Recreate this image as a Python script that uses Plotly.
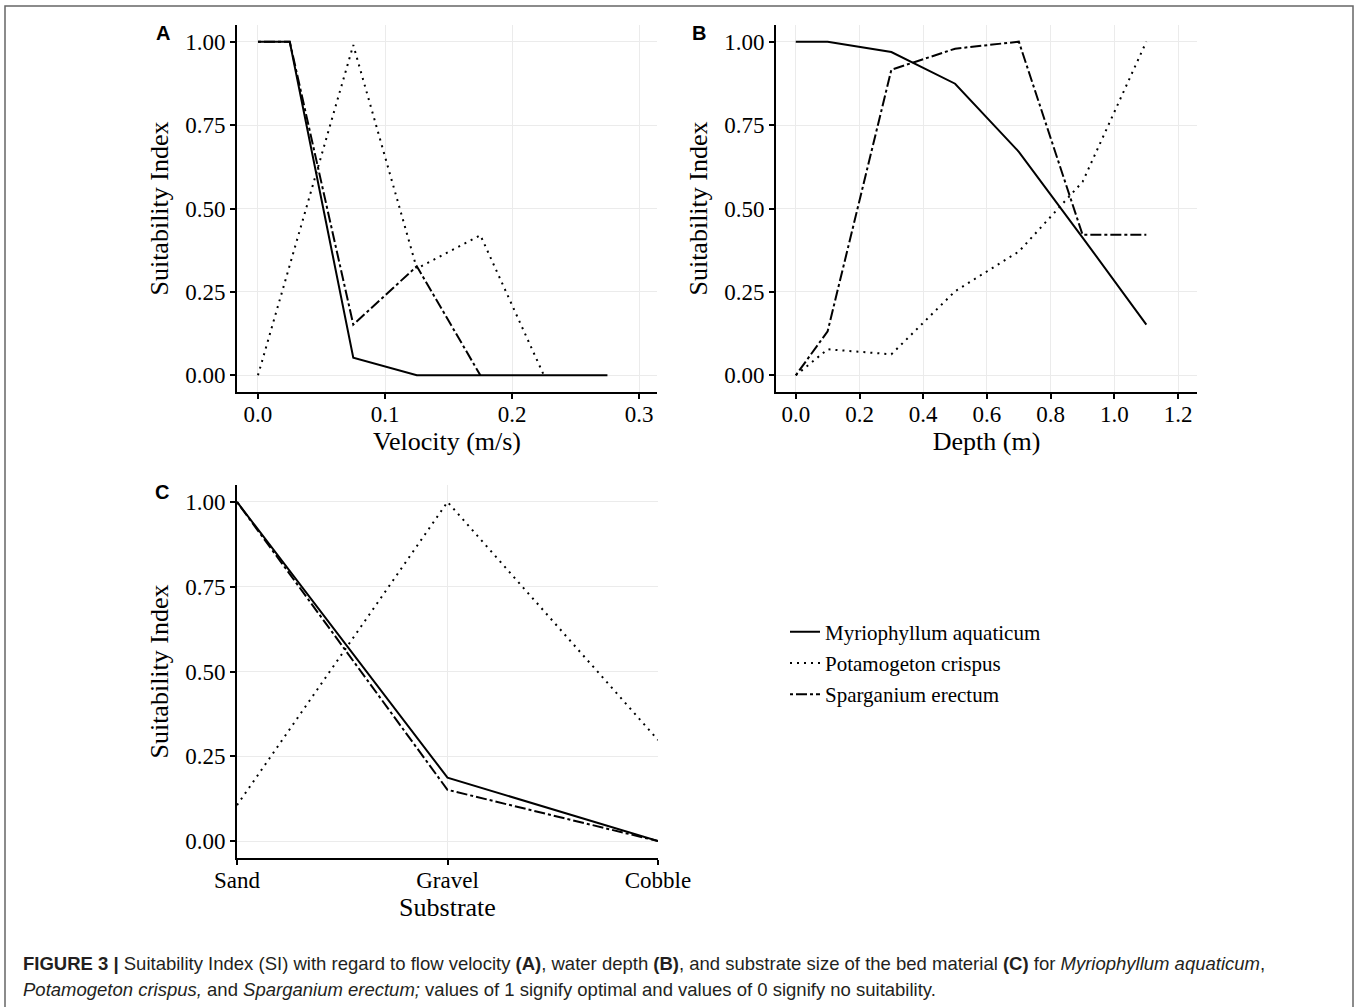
import plotly.graph_objects as go

# ---------------- data ----------------
species = ["Myriophyllum aquaticum", "Potamogeton crispus", "Sparganium erectum"]

vel_myr_x = [0.0, 0.025, 0.075, 0.125, 0.175, 0.225, 0.275]
vel_myr_y = [1.0, 1.0, 0.053, 0.0, 0.0, 0.0, 0.0]
vel_pot_x = [0.0, 0.075, 0.125, 0.175, 0.225]
vel_pot_y = [0.0, 0.99, 0.32, 0.42, 0.0]
vel_spa_x = [0.0, 0.025, 0.075, 0.125, 0.175]
vel_spa_y = [1.0, 1.0, 0.152, 0.327, 0.0]

dep_x = [0.0, 0.1, 0.3, 0.5, 0.7, 0.9, 1.1]
dep_myr_y = [1.0, 1.0, 0.969, 0.874, 0.670, 0.413, 0.152]
dep_pot_y = [0.0, 0.078, 0.063, 0.252, 0.371, 0.58, 1.0]
dep_spa_y = [0.0, 0.132, 0.916, 0.979, 1.0, 0.421, 0.421]

substrates = ["Sand", "Gravel", "Cobble"]
sub_myr_y = [1.0, 0.187, 0.0]
sub_pot_y = [0.106, 1.0, 0.298]
sub_spa_y = [1.0, 0.151, 0.0]

vel_ticks = [0.0, 0.1, 0.2, 0.3]
vel_ticklabels = ["0.0", "0.1", "0.2", "0.3"]
dep_ticks = [0.0, 0.2, 0.4, 0.6, 0.8, 1.0, 1.2]
dep_ticklabels = ["0.0", "0.2", "0.4", "0.6", "0.8", "1.0", "1.2"]
si_ticks = [0.0, 0.25, 0.5, 0.75, 1.0]
si_ticklabels = ["0.00", "0.25", "0.50", "0.75", "1.00"]

# ---------------- styles ----------------
W, H = 1359, 1007
SERIF = "Liberation Serif, Times New Roman, serif"
SANS = "Liberation Sans, Arial, sans-serif"
dashes = ["solid", "2px,5px", "3px,3px,11px,3px"]
LW = 2.0

fig = go.Figure()

def add_series(xs_list, ys_list, xa, ya, legend):
    for i, (xs, ys) in enumerate(zip(xs_list, ys_list)):
        fig.add_trace(go.Scatter(
            x=xs, y=ys, mode="lines", name=species[i],
            line=dict(color="black", width=LW, dash=dashes[i]),
            xaxis=xa, yaxis=ya, showlegend=legend,
            legendgroup=species[i], hoverinfo="skip"))

add_series([vel_myr_x, vel_pot_x, vel_spa_x], [vel_myr_y, vel_pot_y, vel_spa_y], "x", "y", True)
add_series([dep_x, dep_x, dep_x], [dep_myr_y, dep_pot_y, dep_spa_y], "x2", "y2", False)
add_series([substrates] * 3, [sub_myr_y, sub_pot_y, sub_spa_y], "x3", "y3", False)

def px_x(p):
    return p / W

def px_y(p):
    return 1 - p / H

axis_common = dict(
    showline=True, linecolor="black", linewidth=2,
    ticks="outside", ticklen=5, tickwidth=1.5, tickcolor="black",
    showgrid=True, gridcolor="#EBEBEB", gridwidth=1,
    zeroline=False, automargin=False,
    tickfont=dict(family=SERIF, size=23, color="black"),
    title_font=dict(family=SERIF, size=26, color="black"),
)
xaxis_extra = dict(ticklabelstandoff=-5)

yrange = [-0.05, 1.05]

fig.update_layout(
    width=W, height=H, autosize=False,
    margin=dict(l=0, r=0, t=0, b=0, pad=0),
    paper_bgcolor="white", plot_bgcolor="white",
    showlegend=True,
    legend=dict(
        x=px_x(785), y=px_y(663), xanchor="left", yanchor="middle",
        font=dict(family=SERIF, size=21, color="black"),
        itemwidth=30, tracegroupgap=1, bgcolor="rgba(0,0,0,0)",
    ),
    xaxis=dict(axis_common, **xaxis_extra, domain=[px_x(237), px_x(657)], range=[-0.0165, 0.314],
               tickvals=vel_ticks, ticktext=vel_ticklabels, anchor="y",
               title=dict(text="Velocity (m/s)", standoff=3)),
    yaxis=dict(axis_common, domain=[px_y(392), px_y(25)], range=yrange,
               tickvals=si_ticks, ticktext=si_ticklabels, anchor="x",
               title=dict(text="Suitability Index", standoff=9)),
    xaxis2=dict(axis_common, **xaxis_extra, domain=[px_x(776), px_x(1197)], range=[-0.062, 1.259],
                tickvals=dep_ticks, ticktext=dep_ticklabels, anchor="y2",
                title=dict(text="Depth (m)", standoff=3)),
    yaxis2=dict(axis_common, domain=[px_y(392), px_y(25)], range=yrange,
                tickvals=si_ticks, ticktext=si_ticklabels, anchor="x2",
                title=dict(text="Suitability Index", standoff=9)),
    xaxis3=dict(axis_common, **xaxis_extra, domain=[px_x(237), px_x(658)], range=[0, 2],
                type="category", categoryorder="array", categoryarray=substrates,
                anchor="y3", title=dict(text="Substrate", standoff=0)),
    yaxis3=dict(axis_common, domain=[px_y(858), px_y(485)], range=yrange,
                tickvals=si_ticks, ticktext=si_ticklabels, anchor="x3",
                title=dict(text="Suitability Index", standoff=9)),
)

# panel letters
for letter, xp, yp in [("A", 163, 33), ("B", 699, 33), ("C", 162, 492)]:
    fig.add_annotation(text="<b>%s</b>" % letter, x=px_x(xp), y=px_y(yp),
                       xref="paper", yref="paper", showarrow=False,
                       xanchor="center", yanchor="middle",
                       font=dict(family=SANS, size=20, color="black"))

# caption
cap1 = ("<b>FIGURE 3 |</b> Suitability Index (SI) with regard to flow velocity <b>(A)</b>, "
        "water depth <b>(B)</b>, and substrate size of the bed material <b>(C)</b> for "
        "<i>Myriophyllum aquaticum</i>,")
cap2 = ("<i>Potamogeton crispus,</i> and <i>Sparganium erectum;</i> values of 1 signify "
        "optimal and values of 0 signify no suitability.")
for txt, yp in [(cap1, 963), (cap2, 989)]:
    fig.add_annotation(text=txt, x=px_x(21), y=px_y(yp), xref="paper", yref="paper",
                       showarrow=False, xanchor="left", yanchor="middle",
                       font=dict(family=SANS, size=18.5, color="#231F20"))

# frame around the figure
fig.add_shape(type="rect", xref="paper", yref="paper",
              x0=px_x(5), x1=px_x(1353), y0=px_y(1010), y1=px_y(6),
              line=dict(color="#666666", width=1.5))

fig.write_html(
    "out.html",
    config={"displayModeBar": False},
    post_script="document.body.style.margin='0';document.body.style.overflow='hidden';",
)
